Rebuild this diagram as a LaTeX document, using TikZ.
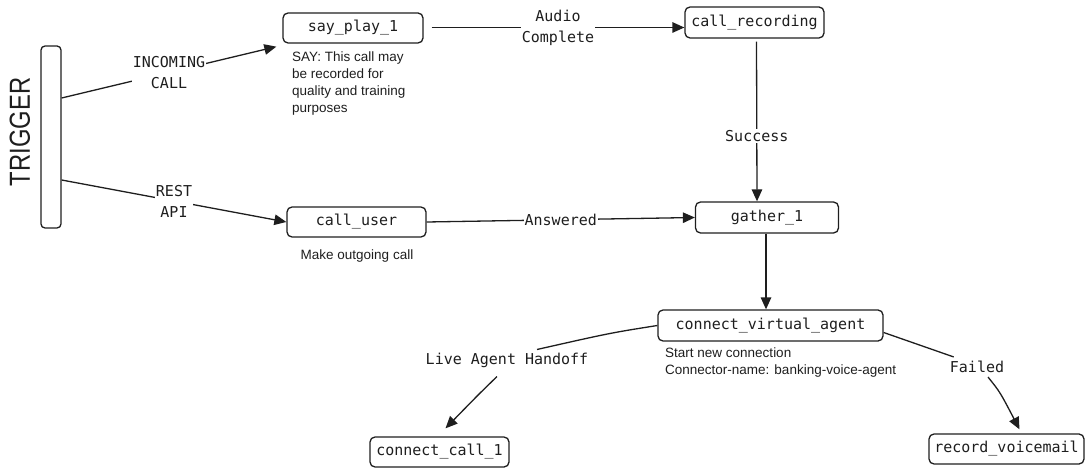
\documentclass[tikz,border=0pt]{standalone}
\usepackage{fontspec}
\setmainfont{Liberation Sans}
\newfontfamily\monof{DejaVu Sans Mono}
\usetikzlibrary{arrows.meta,calc}
\definecolor{ink}{HTML}{1E1E1E}
\tikzset{
  box/.style={draw=ink, line width=1.3pt, rounded corners=5pt, inner sep=0pt,
    font=\monof\fontsize{15}{20}\selectfont, text=ink},
  lbl/.style={fill=white, inner sep=1pt, align=center,
    font=\monof\fontsize{15}{21}\selectfont, text=ink},
  desc/.style={inner sep=0pt, align=left, text=ink,
    font=\fontsize{13.5}{16.7}\selectfont},
  conn/.style={draw=ink, line width=1.3pt},
  arr/.style={conn, -{Triangle[length=12pt,width=10.5pt]}},
}
\begin{document}
\begin{tikzpicture}[x=1pt,y=-1pt]
\useasboundingbox (0,0) rectangle (1086,470);

% trigger
\node[draw=ink, line width=1.3pt, rounded corners=4pt, minimum width=20pt, minimum height=182pt, inner sep=0pt] (trig) at (51,137) {};
\node[rotate=90, text=ink, inner sep=0pt] (trigtxt) at (20,132) {\scalebox{0.82}[1]{\fontsize{29}{29}\selectfont TRIGGER}};

% boxes
\node[box, minimum width=140pt, minimum height=30pt] (say) at (353,28) {say\_play\_1};
\node[box, minimum width=139pt, minimum height=31pt] (rec) at (754.5,22.5) {call\_recording};
\node[box, minimum width=139pt, minimum height=30pt] (user) at (356.5,222) {call\_user};
\node[box, minimum width=143pt, minimum height=31pt] (gather) at (767,217.5) {gather\_1};
\node[box, minimum width=225pt, minimum height=31pt] (cva) at (770.5,325.5) {connect\_virtual\_agent};
\node[box, minimum width=139pt, minimum height=30pt] (cc1) at (439.5,452) {connect\_call\_1};
\node[box, minimum width=155pt, minimum height=30pt] (rv) at (1006.5,449) {record\_voicemail};

% descriptions
\node[desc, anchor=north west] (saydesc) at (292,52) {SAY: This call may\\be recorded for\\quality and training\\purposes};
\node[desc] (userdesc) at (357,256) {Make outgoing call};
\node[desc, anchor=north west] (cvadesc) at (665,348) {Start new connection\\Connector-name: banking-voice-agent};

% connectors
\draw[arr] (trig.east |- 0,98) -- node[lbl]{INCOMING\\CALL} ($(say.south west)+(-6,3)$);
\draw[arr] (trig.east |- 0,180) -- node[lbl]{REST\\API} (user.west);
\draw[arr] ($(say.east |- 0,27.5)+(8,0)$) -- node[lbl]{Audio\\Complete} (rec.west |- 0,27.5);
\draw[arr] ($(rec.south)+(2,3)$) -- node[lbl, pos=0.59]{Success} ($(gather.north)+(-10,0)$);
\draw[arr] (user.east) -- node[lbl]{Answered} (gather.west);
\draw[arr] ($(gather.south)+(-1,0)$) -- ($(gather.south |- cva.north)+(-1,0)$);

\node[lbl] (lah) at (507,360) {Live Agent Handoff};
\draw[conn] (cva.west) .. controls (610,333) .. ($(lah.north)+(30,-2)$);
\draw[arr] ($(lah.south)+(-10,8)$) .. controls (478,395) .. ($(cc1.north)+(6,-8)$);

\node[lbl] (fail) at (977,367) {Failed};
\draw[conn] ($(cva.east)+(0,7)$) -- ($(fail.north west)+(5,-3)$);
\draw[arr] ($(fail.south)+(11,3)$) .. controls (1000,392) .. ($(rv.north)+(13,-4)$);
\end{tikzpicture}
\end{document}
